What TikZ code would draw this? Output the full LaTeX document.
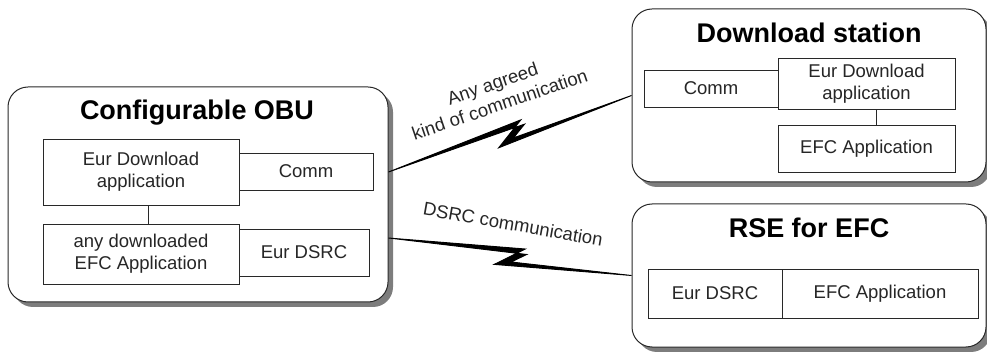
\documentclass[tikz,border=0pt]{standalone}
\usepackage{fontspec}
\setmainfont{Liberation Sans}
\usetikzlibrary{positioning,calc,shadows}
\definecolor{FrameGray}{RGB}{40,40,40}
\definecolor{ShadeGray}{RGB}{125,125,125}
% radio link with a lightning jog half way
\newcommand{\zap}[2]{%
  \filldraw[bolt] (#1) -- ($(#1)!0.557!(#2)!10pt!90:(#2)$)
    -- ($(#1)!0.441!(#2)!10pt!-90:(#2)$) -- (#2)
    -- ($(#1)!0.508!(#2)!5pt!-90:(#2)$)
    -- ($(#1)!0.566!(#2)!4.8pt!90:(#2)$) -- cycle;}

\begin{document}
\begin{tikzpicture}[x=1pt,y=-1pt,
panel/.style={draw=FrameGray, line width=1pt, fill=white, rounded corners=20pt,
  inner sep=0pt, drop shadow={shadow xshift=5pt, shadow yshift=-5pt, fill=ShadeGray, opacity=1}},
unit/.style={draw=FrameGray, line width=0.8pt, fill=white, inner sep=0pt, align=center,
  font=\fontsize{18.5}{22}\selectfont, text=black!85},
title/.style={anchor=base, font=\fontsize{27}{32}\selectfont\bfseries},
tag/.style={align=center, font=\fontsize{18.5}{22}\selectfont, text=black!85},
bolt/.style={fill=black, draw=black, line width=0.9pt, line join=miter},
wire/.style={draw=FrameGray, line width=0.8pt}]
\useasboundingbox (0,0) rectangle (987,352);
\clip (0,0) rectangle (987,352);

% on-board unit
\node[panel, minimum width=380pt, minimum height=215pt] (obu) at (198,194.5) {};
\node[title] (obutitle) at (197,120) {Configurable OBU};
\node[unit, minimum width=196pt, minimum height=66pt] (obuapp) at (141,172) {Eur Download\\application};
\node[unit, minimum width=134pt, minimum height=37pt] (obucomm) at (306,171.5) {Comm};
\node[unit, minimum width=196pt, minimum height=60pt] (obuefc) at (141,254) {any downloaded\\EFC Application};
\node[unit, minimum width=130pt, minimum height=47pt] (obudsrc) at (304,252.5) {Eur DSRC};
\draw[wire] ([xshift=7pt]obuapp.south) -- ([xshift=7pt]obuefc.north);

% download station
\node[panel, minimum width=354pt, minimum height=173pt] (ds) at (809,95.5) {};
\node[title] (dstitle) at (809,43) {Download station};
\node[unit, minimum width=134pt, minimum height=37pt] (dscomm) at (711,88.5) {Comm};
\node[unit, minimum width=177pt, minimum height=51pt] (dsapp) at (866.5,83.5) {Eur Download\\application};
\node[unit, minimum width=177pt, minimum height=47pt] (dsefc) at (866.5,148.5) {EFC Application};
\draw[wire] ([xshift=10pt]dsapp.south) -- ([xshift=10pt]dsefc.north);

% roadside equipment
\node[panel, minimum width=354pt, minimum height=143pt] (rse) at (809,275.5) {};
\node[title] (rsetitle) at (809,238) {RSE for EFC};
\node[unit, minimum width=134pt, minimum height=49pt] (rsedsrc) at (715,293.5) {Eur DSRC};
\node[unit, minimum width=196pt, minimum height=49pt] (rseefc) at (880,293.5) {EFC Application};

% links
\coordinate (obuhi) at ([yshift=22.5pt]obu.east);
\coordinate (obulo) at ([yshift=-43.5pt]obu.east);
\zap{obuhi}{ds.west}
\zap{obulo}{rse.west}
\node[tag, rotate=18.8] (dslink) at (496,94) {Any agreed\\kind of communication};
\node[tag, rotate=-10] (rselink) at (513,224) {DSRC communication};
\end{tikzpicture}
\end{document}
